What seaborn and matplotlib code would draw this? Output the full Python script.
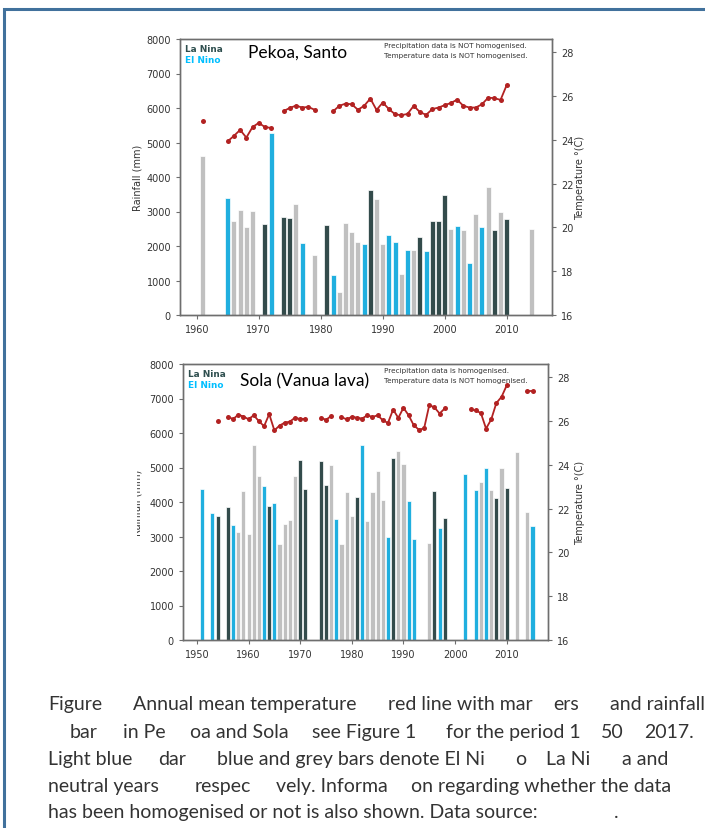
import matplotlib
matplotlib.use("Agg")
import matplotlib.pyplot as plt
import numpy as np
import pandas as pd
import seaborn as sns
from matplotlib.patches import Rectangle
from matplotlib.transforms import Bbox, TransformedBbox

# --- Pekoa, Santo : rainfall bars ---
pekoa_years = [1961, 1965, 1966, 1967, 1968, 1969, 1971, 1972, 1974, 1975, 1976, 1977,
               1979, 1981, 1982, 1983, 1984, 1985, 1986, 1987, 1988, 1989, 1990, 1991,
               1992, 1993, 1994, 1995, 1996, 1997, 1998, 1999, 2000, 2001, 2002, 2003,
               2004, 2005, 2006, 2007, 2008, 2009, 2010, 2014]
pekoa_rain = [4620, 3380, 2730, 3030, 2550, 3010, 2650, 5270, 2835, 2800, 3230, 2090,
              1730, 2620, 1165, 680, 2660, 2420, 2110, 2060, 3620, 3360, 2050, 2310,
              2110, 1200, 1880, 1880, 2260, 1850, 2720, 2720, 3470, 2480, 2570, 2470,
              1500, 2930, 2560, 3710, 2460, 3000, 2770, 2500]
pekoa_phase = ["Neutral", "El Nino", "Neutral", "Neutral", "Neutral", "Neutral", "La Nina",
               "El Nino", "La Nina", "La Nina", "Neutral", "El Nino", "Neutral", "La Nina",
               "El Nino", "Neutral", "Neutral", "Neutral", "Neutral", "El Nino", "La Nina",
               "Neutral", "Neutral", "El Nino", "El Nino", "Neutral", "El Nino", "Neutral",
               "La Nina", "El Nino", "La Nina", "La Nina", "La Nina", "Neutral", "El Nino",
               "Neutral", "El Nino", "Neutral", "El Nino", "Neutral", "La Nina", "Neutral",
               "La Nina", "Neutral"]

# --- Pekoa, Santo : mean temperature ---
pekoa_t_years = [1961, 1965, 1966, 1967, 1968, 1969, 1970, 1971, 1972,
                 1974, 1975, 1976, 1977, 1978, 1979,
                 1982, 1983, 1984, 1985, 1986, 1987, 1988, 1989, 1990, 1991, 1992, 1993,
                 1994, 1995, 1996, 1997, 1998, 1999, 2000, 2001, 2002, 2003, 2004, 2005,
                 2006, 2007, 2008, 2009, 2010]
pekoa_temp = [24.87, 23.93, 24.18, 24.45, 24.10, 24.58, 24.77, 24.58, 24.54,
              25.31, 25.45, 25.56, 25.47, 25.50, 25.37,
              25.30, 25.55, 25.65, 25.62, 25.37, 25.55, 25.88, 25.36, 25.70, 25.40, 25.16,
              25.12, 25.18, 25.55, 25.26, 25.14, 25.40, 25.47, 25.58, 25.68, 25.83, 25.55,
              25.47, 25.47, 25.62, 25.92, 25.90, 25.82, 26.50]

# --- Sola (Vanua lava) : rainfall bars ---
sola_years = [1951, 1953, 1954, 1956, 1957, 1958, 1959, 1960, 1961, 1962, 1963, 1964,
              1965, 1966, 1967, 1968, 1969, 1970, 1971, 1974, 1975, 1976, 1977, 1978,
              1979, 1980, 1981, 1982, 1983, 1984, 1985, 1986, 1987, 1988, 1989, 1990,
              1991, 1992, 1995, 1996, 1997, 1998, 2002, 2004, 2005, 2006, 2007, 2008,
              2009, 2010, 2012, 2014, 2015]
sola_rain = [4390, 3680, 3600, 3860, 3340, 3130, 4330, 3080, 5640, 4750, 4470, 3895,
             3980, 2780, 3360, 3470, 4750, 5210, 4370, 5180, 4480, 5080, 3500, 2790,
             4290, 3590, 4150, 5650, 3450, 4280, 4890, 4050, 3000, 5270, 5475, 5090,
             4030, 2935, 2800, 4310, 3250, 3550, 4815, 4340, 4580, 4990, 4360, 4110,
             4980, 4410, 5445, 3710, 3290]
sola_phase = ["El Nino", "El Nino", "La Nina", "La Nina", "El Nino", "Neutral", "Neutral",
              "Neutral", "Neutral", "Neutral", "El Nino", "La Nina", "El Nino", "Neutral",
              "Neutral", "Neutral", "Neutral", "La Nina", "La Nina", "La Nina", "La Nina",
              "Neutral", "El Nino", "Neutral", "Neutral", "Neutral", "La Nina", "El Nino",
              "Neutral", "Neutral", "Neutral", "Neutral", "El Nino", "La Nina", "Neutral",
              "Neutral", "El Nino", "El Nino", "Neutral", "La Nina", "El Nino", "La Nina",
              "El Nino", "El Nino", "Neutral", "El Nino", "Neutral", "La Nina", "Neutral",
              "La Nina", "Neutral", "Neutral", "El Nino"]

# --- Sola (Vanua lava) : mean temperature ---
sola_t_years = [1954,
                1956, 1957, 1958, 1959, 1960, 1961, 1962, 1963, 1964, 1965, 1966, 1967,
                1968, 1969, 1970, 1971,
                1974, 1975, 1976,
                1978, 1979, 1980, 1981, 1982, 1983, 1984, 1985, 1986, 1987, 1988, 1989,
                1990, 1991, 1992, 1993, 1994, 1995, 1996, 1997, 1998,
                2003, 2004, 2005, 2006, 2007, 2008, 2009, 2010,
                2014, 2015]
sola_temp = [26.00,
             26.20, 26.08, 26.29, 26.20, 26.08, 26.26, 25.99, 25.76, 26.31, 25.57, 25.79,
             25.92, 25.97, 26.15, 26.08, 26.10,
             26.15, 26.05, 26.23,
             26.18, 26.07, 26.19, 26.15, 26.11, 26.26, 26.18, 26.26, 26.03, 25.91, 26.52,
             26.14, 26.60, 26.26, 25.80, 25.60, 25.66, 26.72, 26.62, 26.34, 26.57,
             26.53, 26.48, 26.36, 25.65, 26.07, 26.82, 27.10, 27.62,
             27.37, 27.37]

PALETTE = {"El Nino": "#00BFFF", "La Nina": "#2F4F4F", "Neutral": "#C0C0C0"}
RED = "#B22222"
SPINE = "#6e6e6e"
TXT = "#333333"
W, H = 705, 829


def px_rect(left, top, right, bottom):
    return [left / W, 1 - bottom / H, (right - left) / W, (bottom - top) / H]


def draw_panel(fig, rect, years, rain, phase, t_years, temps, title, title_xy,
               notes, notes_x, xlim, xticks):
    ax = fig.add_axes(rect)
    df = pd.DataFrame({"year": years, "rain": rain, "phase": phase})
    sns.barplot(data=df, x="year", y="rain", hue="phase", palette=PALETTE,
                native_scale=True, dodge=False, width=0.8, edgecolor="white",
                linewidth=0.5, legend=False, ax=ax)
    ax.set_xlim(*xlim)
    ax.set_ylim(0, 8000)
    ax.set_yticks(range(0, 8001, 1000))
    ax.set_xticks(xticks)
    ax.set_xlabel("")
    ax.set_ylabel("")

    ax2 = ax.twinx()
    tdf = pd.DataFrame({"year": t_years, "temp": temps})
    tdf["seg"] = (tdf["year"].diff() != 1).cumsum()
    sns.lineplot(data=tdf, x="year", y="temp", units="seg", estimator=None,
                 color=RED, marker="o", markersize=3.6, markeredgewidth=0,
                 linewidth=1.3, ax=ax2)
    ax2.set_ylim(16, 28.6)
    ax2.set_yticks(range(16, 29, 2))
    ax2.set_xlim(*xlim)
    ax2.set_xlabel("")
    ax2.set_ylabel("")

    for a in (ax, ax2):
        for s in a.spines.values():
            s.set_visible(True)
            s.set_color(SPINE)
            s.set_linewidth(1.0)
        a.tick_params(axis="both", labelsize=7, colors=SPINE, labelcolor=TXT,
                      length=3, width=0.8, direction="out")

    ax.text(0.013, 0.964, "La Nina", transform=ax.transAxes, fontsize=6.4,
            fontweight="bold", color=PALETTE["La Nina"], va="center", ha="left")
    ax.text(0.013, 0.924, "El Nino", transform=ax.transAxes, fontsize=6.4,
            fontweight="bold", color=PALETTE["El Nino"], va="center", ha="left")
    ax.text(title_xy[0], title_xy[1], title, transform=ax.transAxes, fontsize=12.5,
            family="Lato", color="black", va="center", ha="left")
    ax2.text(notes_x, 0.978, notes[0], transform=ax.transAxes, fontsize=5.2,
             color=TXT, va="center", ha="left")
    ax2.text(notes_x, 0.942, notes[1], transform=ax.transAxes, fontsize=5.2,
             color=TXT, va="center", ha="left")
    return ax, ax2


sns.set_theme(style="ticks")
plt.rcParams["font.family"] = ["DejaVu Sans"]

fig = plt.figure(figsize=(W / 100, H / 100), dpi=100)
fig.patch.set_facecolor("white")

# document frame (only top and left edges fall inside the crop)
fig.add_artist(Rectangle((4 / W, -0.1), 1.2, 1.1 - 9.5 / H, transform=fig.transFigure,
                         facecolor="none", edgecolor="#41719C", linewidth=2.2,
                         clip_on=False))

draw_panel(fig, px_rect(180, 40, 552, 316), pekoa_years, pekoa_rain, pekoa_phase,
           pekoa_t_years, pekoa_temp, "Pekoa, Santo", (0.183, 0.955),
           ["Precipitation data is NOT homogenised.", "Temperature data is NOT homogenised."],
           0.548, (1957.3, 2017.3), range(1960, 2011, 10))

draw_panel(fig, px_rect(183, 365, 548, 641), sola_years, sola_rain, sola_phase,
           sola_t_years, sola_temp, "Sola (Vanua lava)", (0.156, 0.940),
           ["Precipitation data is homogenised.", "Temperature data is NOT homogenised."],
           0.551, (1947.3, 2018.0), range(1950, 2011, 10))

# axis titles
fig.text(138 / W, 1 - 178 / H, "Rainfall (mm)", rotation=90, fontsize=7, color=TXT,
         ha="center", va="center")
lab = fig.text(138 / W, 1 - 503 / H, "Rainfall (mm)", rotation=90, fontsize=7,
               color=TXT, ha="center", va="center")
lab.set_clip_box(TransformedBbox(Bbox([[137 / W, 0.2], [0.3, 0.8]]), fig.transFigure))
lab.set_clip_on(True)
fig.text(580 / W, 1 - 178 / H, "Temperature °(C)", rotation=90, fontsize=7, color=TXT,
         ha="center", va="center")
fig.text(580 / W, 1 - 503 / H, "Temperature °(C)", rotation=90, fontsize=7, color=TXT,
         ha="center", va="center")

# caption (gaps where the source lost glyphs)
caption = [
    (705, [(48, "Figure"), (133, "Annual mean temperature"), (388, "red line with mar"),
           (553, "ers"), (610, "and rainfall")]),
    (733, [(70, "bar"), (123, "in Pe"), (190, "oa and Sola"), (312, "see Figure 1"),
           (446, "for the period 1"), (601, "50"), (644, "2017.")]),
    (760, [(48, "Light blue"), (158, "dar"), (217, "blue and grey bars denote El Ni"),
           (515, "o"), (546, "La Ni"), (622, "a and")]),
    (787, [(48, "neutral years"), (195, "respec"), (276, "vely. Informa"),
           (411, "on regarding whether the data")]),
    (813, [(48, "has been homogenised or not is also shown. Data source:"), (614, ".")]),
]
for y, parts in caption:
    for x, s in parts:
        fig.text(x / W, 1 - y / H, s, fontsize=14, family="Lato", color=TXT,
                 ha="left", va="center")

fig.savefig("out.png", dpi=100)
